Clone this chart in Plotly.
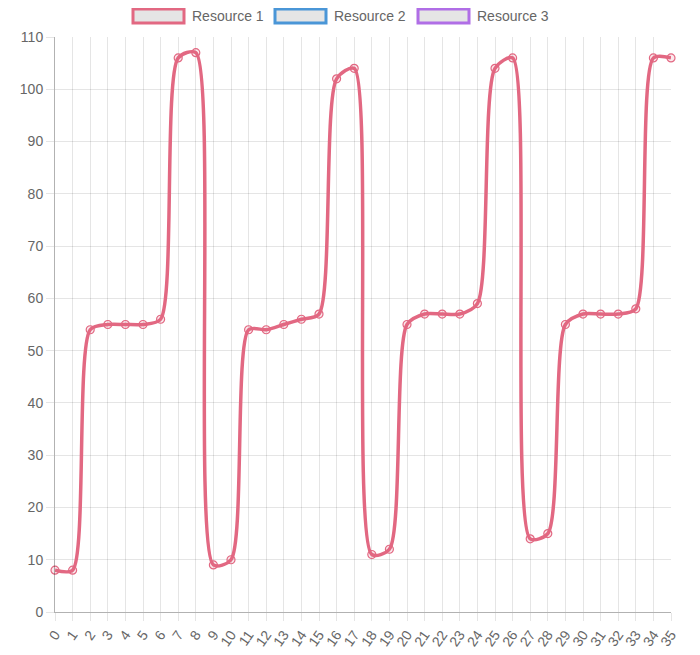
import plotly.graph_objects as go

# data
labels = [str(i) for i in range(36)]
resource_1 = [8, 8, 54, 55, 55, 55, 56, 106, 107, 9,
              10, 54, 54, 55, 56, 57, 102, 104, 11, 12,
              55, 57, 57, 57, 59, 104, 106, 14, 15, 55,
              57, 57, 57, 58, 106, 106]
resource_2 = []
resource_3 = []

series_names = ["Resource 1", "Resource 2", "Resource 3"]
series_colors = ["rgb(226,104,130)", "rgb(74,150,215)", "rgb(176,110,230)"]

# page body has an 8px margin, so the figure is a bit smaller than the window
OFF = 8
W, H = 700 - OFF, 655 - OFF
L, R, T, B = 55 - OFF, 29, 37 - OFF, 43
plot_w = W - L - R
plot_h = H - T - B
FONT = "Liberation Sans, Arial, Helvetica, sans-serif"
GRID = "rgba(0,0,0,0.1)"


def px_to_paper(x, y):
    # x, y measured on the screenshot
    return (x - OFF - L) / plot_w, (H - B - (y - OFF)) / plot_h


fig = go.Figure()
for name, vals, col in zip(series_names, [resource_1, resource_2, resource_3], series_colors):
    fig.add_trace(go.Scatter(
        x=labels[:len(vals)],
        y=vals,
        name=name,
        mode="lines+markers",
        line=dict(color=col, width=3.5, shape="spline", smoothing=0.75),
        marker=dict(size=8, color="rgba(226,104,130,0.15)",
                    line=dict(color=col, width=1.2)),
        showlegend=False,
        cliponaxis=False,
    ))

# legend drawn like the Chart.js one (wide boxes)
shapes = []
annotations = []
box_x = [133, 275, 418]
for bx, name, col in zip(box_x, series_names, series_colors):
    x0, y0 = px_to_paper(bx, 23)
    x1, y1 = px_to_paper(bx + 51, 9)
    shapes.append(dict(type="rect", xref="paper", yref="paper",
                       x0=x0, x1=x1, y0=y0, y1=y1,
                       fillcolor="rgba(0,0,0,0.1)",
                       line=dict(color=col, width=3)))
    tx, ty = px_to_paper(bx + 57, 16)
    annotations.append(dict(text=name, xref="paper", yref="paper",
                            x=tx, y=ty, xanchor="left", yanchor="middle",
                            showarrow=False,
                            font=dict(family=FONT, size=14, color="#666")))

fig.update_layout(
    width=W, height=H,
    margin=dict(l=L, r=R, t=T, b=B, pad=0, autoexpand=False),
    paper_bgcolor="white",
    plot_bgcolor="white",
    showlegend=False,
    shapes=shapes,
    annotations=annotations,
    font=dict(family=FONT, size=12, color="#666"),
    xaxis=dict(
        type="category",
        categoryorder="array", categoryarray=labels,
        range=[0, 35],
        tickmode="array", tickvals=labels, ticktext=labels,
        tickangle=-55,
        automargin=False,
        showgrid=True, gridcolor=GRID, gridwidth=1,
        ticks="outside", ticklen=8, tickcolor=GRID,
        showline=True, linecolor="rgba(0,0,0,0.3)", linewidth=1,
        zeroline=False,
        tickfont=dict(family=FONT, size=14, color="#666"),
    ),
    yaxis=dict(
        range=[0, 110],
        tickmode="linear", tick0=0, dtick=10,
        automargin=False,
        showgrid=True, gridcolor=GRID, gridwidth=1,
        ticks="outside", ticklen=8, tickcolor=GRID,
        showline=True, linecolor="rgba(0,0,0,0.3)", linewidth=1,
        zeroline=False,
        tickfont=dict(family=FONT, size=14, color="#666"),
    ),
)

fig.write_html("out.html")
